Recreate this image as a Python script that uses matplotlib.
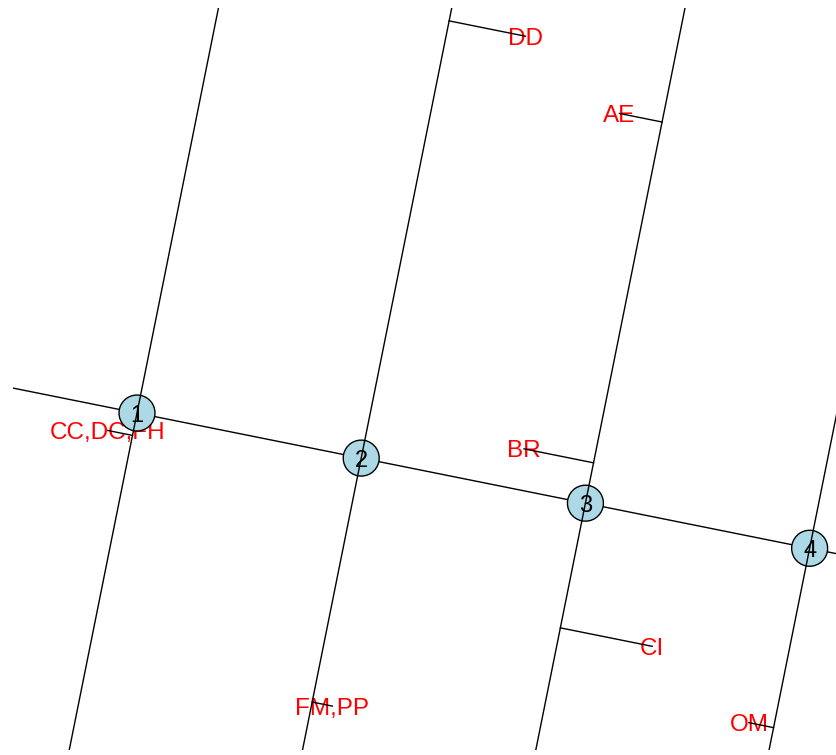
import matplotlib
matplotlib.use('Agg')
import matplotlib.pyplot as plt
from matplotlib.patches import Circle
from matplotlib.transforms import Affine2D

# nodes sit along the main axis, one unit apart
nodes = [1, 2, 3, 4]

# labelled branches: which node's cross line they hang from,
# where on that line (perpendicular offset) and how long the stub is
labels = ['CC,DC,FH', 'FM,PP', 'BR', 'AE', 'CI', 'DD', 'OM']
label_node = [1, 2, 3, 3, 3, 2, 4]
label_offset = [-0.10, -1.088, 0.18, 1.70, -0.556, 1.95, -0.80]
label_len = [-0.11, 0.09, -0.31, -0.19, 0.41, 0.34, -0.11]

angle = -11.37  # tilt of the main axis

plt.rcParams['font.family'] = ['Liberation Sans', 'DejaVu Sans']

fig = plt.figure(figsize=(8.36, 7.55), dpi=100)
ax = fig.add_axes([13 / 836, 5 / 755, 823 / 836, 742 / 755])
ax.set_xlim(-0.5422, 3.0564)
ax.set_ylim(-1.4735, 1.7709)
ax.axis('off')

tr = Affine2D().rotate_deg(angle) + ax.transData

# main axis
ax.plot([-2, 6], [0, 0], color='black', lw=1.0, transform=tr, zorder=2)

for n in nodes:
    t = n - 1
    # cross line through each node
    ax.plot([t, t], [-5, 5], color='black', lw=1.0, transform=tr, zorder=4)
    c = Circle((t, 0), 0.0787, facecolor='lightblue', edgecolor='black',
               lw=1.0, transform=tr, zorder=3)
    ax.add_patch(c)
    ax.text(t, 0, str(n), transform=tr, ha='center', va='center_baseline',
            fontsize=17, color='black', zorder=5)

for lab, n, s, ln in zip(labels, label_node, label_offset, label_len):
    t = n - 1
    ax.plot([t, t + ln], [s, s], color='black', lw=1.0, transform=tr, zorder=4)
    ax.text(t + ln, s, lab, transform=tr, ha='center', va='center_baseline',
            fontsize=17.5, color='red', zorder=1)

fig.savefig('out.png', dpi=100)
